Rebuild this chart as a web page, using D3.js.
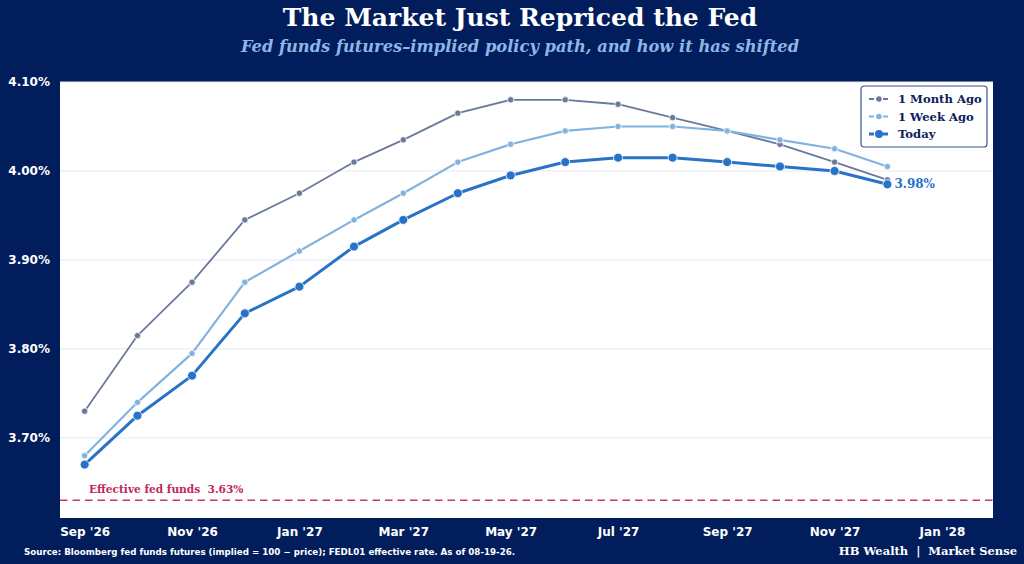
<!DOCTYPE html>
<html>
<head>
<meta charset="utf-8">
<script src="https://cdn.jsdelivr.net/npm/d3@7"></script>
<style>
  html, body { margin: 0; padding: 0; background: #021d5c; }
  svg { display: block; }
</style>
</head>
<body>
<div id="chart"></div>
<script>
const months = ["2026-09-01", "2026-10-01", "2026-11-01", "2026-12-01", "2027-01-01", "2027-02-01",
    "2027-03-01", "2027-04-01", "2027-05-01", "2027-06-01", "2027-07-01", "2027-08-01",
    "2027-09-01", "2027-10-01", "2027-11-01", "2027-12-01"];
const monthAgo = [3.73, 3.815, 3.875, 3.945, 3.975, 4.01, 4.035, 4.065, 4.08, 4.08, 4.075, 4.06, 4.045, 4.03, 4.01, 3.99];
const weekAgo = [3.68, 3.74, 3.795, 3.875, 3.91, 3.945, 3.975, 4.01, 4.03, 4.045, 4.05, 4.05, 4.045, 4.035, 4.025, 4.005];
const today = [3.67, 3.725, 3.77, 3.84, 3.87, 3.915, 3.945, 3.975, 3.995, 4.01, 4.015, 4.015, 4.01, 4.005, 4.0, 3.985];
const effectiveRate = 3.63;
const yTicks = [3.70, 3.80, 3.90, 4.00, 4.10];
const xTicks = ["2026-09-01", "2026-11-01", "2027-01-01", "2027-03-01", "2027-05-01",
    "2027-07-01", "2027-09-01", "2027-11-01", "2028-01-01"];

(function() {
    const W = 1024, H = 564;
    const margin = { top: 82, right: 31, bottom: 46, left: 60 };
    const width = W - margin.left - margin.right,
        height = H - margin.top - margin.bottom;

    const parse = d3.utcParse("%Y-%m-%d");
    const dates = months.map(parse);

    const series = [
        { name: "1 Month Ago", values: monthAgo, color: "#6b7a9c", width: 1.8, r: 3.2 },
        { name: "1 Week Ago", values: weekAgo, color: "#82b3e0", width: 2.2, r: 3.2 },
        { name: "Today", values: today, color: "#2872c8", width: 3, r: 4.5 }
    ];

    const svg = d3.select("#chart").append("svg")
        .attr("width", W)
        .attr("height", H);

    svg.append("rect").attr("width", W).attr("height", H).attr("fill", "#021d5c");

    svg.append("text")
        .attr("x", 520).attr("y", 26)
        .attr("text-anchor", "middle")
        .style("font-family", "DejaVu Serif")
        .style("font-weight", "bold")
        .style("font-size", "25px")
        .attr("fill", "#ffffff")
        .text("The Market Just Repriced the Fed");

    svg.append("text")
        .attr("x", 520).attr("y", 52)
        .attr("text-anchor", "middle")
        .style("font-family", "DejaVu Serif")
        .style("font-weight", "bold")
        .style("font-style", "italic")
        .style("font-size", "16.3px")
        .attr("fill", "#8db6e6")
        .text("Fed funds futures\u2013implied policy path, and how it has shifted");

    const x = d3.scaleUtc()
        .domain([parse("2026-08-18"), parse("2028-01-30")])
        .range([0, width]);
    const y = d3.scaleLinear()
        .domain([3.61, 4.10])
        .range([height, 0]);

    const g = svg.append("g").attr("transform", `translate(${margin.left},${margin.top})`);

    g.append("rect")
        .attr("width", width).attr("height", height)
        .attr("fill", "#ffffff");

    // gridlines
    g.append("g").selectAll("line")
        .data(yTicks)
        .enter().append("line")
        .attr("x1", 0).attr("x2", width)
        .attr("y1", d => y(d)).attr("y2", d => y(d))
        .attr("stroke", "#e6e9f0").attr("stroke-width", 1);

    // y axis
    const yAxis = g.append("g")
        .call(d3.axisLeft(y).tickValues(yTicks).tickFormat(d => d.toFixed(2) + "%").tickSize(0).tickPadding(10));
    yAxis.select(".domain").remove();
    yAxis.selectAll("text")
        .attr("fill", "#ffffff")
        .style("font-family", "DejaVu Sans")
        .style("font-weight", "bold")
        .style("font-size", "12px");

    // x axis
    const xAxis = g.append("g")
        .attr("transform", `translate(0,${height})`)
        .call(d3.axisBottom(x).tickValues(xTicks.map(parse)).tickFormat(d3.utcFormat("%b '%y")).tickSize(0).tickPadding(9));
    xAxis.select(".domain").remove();
    xAxis.selectAll("text")
        .attr("fill", "#ffffff")
        .style("font-family", "DejaVu Sans")
        .style("font-weight", "bold")
        .style("font-size", "12px");

    // effective fed funds reference
    g.append("line")
        .attr("x1", 0).attr("x2", width)
        .attr("y1", y(effectiveRate)).attr("y2", y(effectiveRate))
        .attr("stroke", "#c43b68").attr("stroke-width", 1.5)
        .attr("stroke-dasharray", "7.5,5");

    g.append("text")
        .attr("x", 29).attr("y", y(effectiveRate) - 7)
        .attr("fill", "#c0285a")
        .style("font-family", "DejaVu Serif")
        .style("font-weight", "bold")
        .style("font-size", "10.6px")
        .attr("xml:space", "preserve")
        .text("Effective fed funds  " + effectiveRate.toFixed(2) + "%");

    const line = d3.line()
        .x((d, i) => x(dates[i]))
        .y(d => y(d));

    series.forEach(function(s) {
        g.append("path")
            .datum(s.values)
            .attr("fill", "none")
            .attr("stroke", s.color)
            .attr("stroke-width", s.width)
            .attr("stroke-linejoin", "round")
            .attr("d", line);

        g.append("g").selectAll("circle")
            .data(s.values)
            .enter().append("circle")
            .attr("cx", (d, i) => x(dates[i]))
            .attr("cy", d => y(d))
            .attr("r", s.r)
            .attr("fill", s.color)
            .attr("stroke", "#ffffff")
            .attr("stroke-width", 0.8);
    });

    // end label for today
    const last = today.length - 1;
    g.append("text")
        .attr("x", x(dates[last]) + 7)
        .attr("y", y(today[last]) + 4)
        .attr("fill", "#2872c8")
        .style("font-family", "DejaVu Serif")
        .style("font-weight", "bold")
        .style("font-size", "12px")
        .text("3.98%");

    // legend
    const legend = g.append("g").attr("transform", `translate(${width - 132},4)`);
    legend.append("rect")
        .attr("width", 126).attr("height", 61)
        .attr("rx", 3)
        .attr("fill", "#ffffff")
        .attr("stroke", "#3a5196")
        .attr("stroke-width", 1.2);

    series.forEach(function(s, i) {
        const ly = 13 + i * 17.5;
        legend.append("line")
            .attr("x1", 8).attr("x2", 28)
            .attr("y1", ly).attr("y2", ly)
            .attr("stroke", s.color)
            .attr("stroke-width", s.width)
            .attr("stroke-dasharray", "5,2");
        legend.append("circle")
            .attr("cx", 18).attr("cy", ly)
            .attr("r", s.r - 0.5)
            .attr("fill", s.color);
        legend.append("text")
            .attr("x", 37).attr("y", ly + 4)
            .attr("fill", "#0d2258")
            .style("font-family", "DejaVu Serif")
            .style("font-weight", "bold")
            .style("font-size", "11.6px")
            .text(s.name);
    });

    // footer
    svg.append("text")
        .attr("x", 24).attr("y", 555)
        .attr("fill", "#ffffff")
        .style("font-family", "DejaVu Sans")
        .style("font-weight", "bold")
        .style("font-size", "8.7px")
        .text("Source: Bloomberg fed funds futures (implied = 100 \u2212 price); FEDL01 effective rate. As of 08-19-26.");

    svg.append("text")
        .attr("x", 1017).attr("y", 555)
        .attr("text-anchor", "end")
        .attr("fill", "#ffffff")
        .style("font-family", "DejaVu Serif")
        .style("font-weight", "bold")
        .style("font-size", "11.5px")
        .attr("xml:space", "preserve")
        .text("HB Wealth  |  Market Sense");
})();
</script>
</body>
</html>
